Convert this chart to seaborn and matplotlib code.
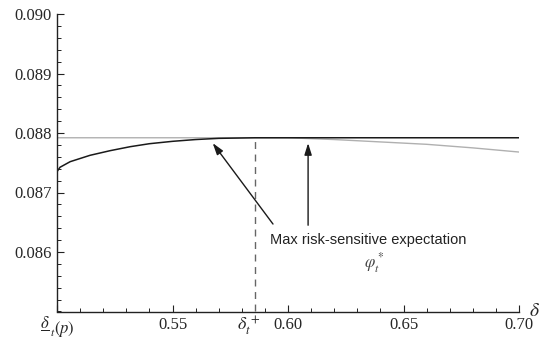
import numpy as np
import pandas as pd
import seaborn as sns
import matplotlib.pyplot as plt
from matplotlib.ticker import MultipleLocator

# values
delta_opt = 0.5857
black_x = [0.500, 0.5013, 0.5057, 0.5143, 0.523, 0.5317, 0.54, 0.55, 0.56, 0.57, 0.5857, 0.60, 0.65, 0.70]
black_y = [0.08735, 0.087424, 0.087518, 0.087625, 0.087703, 0.08777, 0.08782, 0.08786,
           0.08789, 0.08791, 0.08792, 0.08792, 0.08792, 0.08792]
gray_x = [0.50, 0.55, 0.5857, 0.60, 0.62, 0.64, 0.66, 0.68, 0.70]
gray_y = [0.08792, 0.08792, 0.08792, 0.08792, 0.08789, 0.08785, 0.08781, 0.08775, 0.08768]
xtick_vals = [0.50, 0.55, 0.60, 0.65, 0.70]
xtick_labels = ['', '0.55', '0.60', '0.65', '0.70']
first_label = r'$\genfrac{}{}{0.7}{0}{\delta}{\,}_t(p)$'
ytick_vals = [0.086, 0.087, 0.088, 0.089, 0.090]

sns.set_style("ticks")
plt.rcParams['font.family'] = 'serif'
plt.rcParams['font.serif'] = ['Liberation Serif', 'DejaVu Serif']
plt.rcParams['mathtext.fontset'] = 'stix'

df_black = pd.DataFrame({"x": black_x, "y": black_y})
df_gray = pd.DataFrame({"x": gray_x, "y": gray_y})

fig = plt.figure(figsize=(5.54, 3.38), dpi=100)
ax = fig.add_axes([57 / 554, 1 - 311.5 / 338, (519 - 57) / 554, (311.5 - 14) / 338])

sns.lineplot(data=df_gray, x="x", y="y", ax=ax, color="#b0b0b0", lw=1.0)
sns.lineplot(data=df_black, x="x", y="y", ax=ax, color="#1a1a1a", lw=1.1)
ax.plot([delta_opt, delta_opt], [0.085, black_y[10]], color="#666666", lw=1.0, ls=(0, (5, 4)))

ax.set_xlim(0.50, 0.70)
ax.set_ylim(0.085, 0.090)
sns.despine(ax=ax)
for s in ["left", "bottom"]:
    ax.spines[s].set_linewidth(1.0)
    ax.spines[s].set_color("#222222")

ax.set_xticks(xtick_vals)
ax.set_xticklabels(xtick_labels, family="Liberation Serif")
ax.set_yticks(ytick_vals)
ax.set_yticklabels([f"{v:.3f}" for v in ytick_vals], family="Liberation Serif")
ax.xaxis.set_minor_locator(MultipleLocator(0.01))
ax.yaxis.set_minor_locator(MultipleLocator(0.0002))
ax.tick_params(which="major", direction="in", length=5, width=0.8, labelsize=12, pad=4, color="#222222")
ax.tick_params(which="minor", direction="in", length=3, width=0.7, color="#222222")
ax.set_xlabel("")
ax.set_ylabel("")

ax.annotate(first_label, xy=(0.50, 0.085), xytext=(0, -16), textcoords="offset points",
            ha="center", va="baseline", fontsize=12, annotation_clip=False)
ax.text(delta_opt - 0.0025, 0.085 - 0.00006, r'$\delta_t^{\,+}$', ha="center", va="top", fontsize=13)
ax.text(0.7045, 0.0850, r'$\delta$', ha="left", va="center", fontsize=14)

arrow = dict(arrowstyle="-|>,head_length=0.7,head_width=0.22", color="#1a1a1a", lw=1.0,
             shrinkA=0, shrinkB=0)
ax.annotate("", xy=(0.5674, 0.08783), xytext=(0.5935, 0.08647), arrowprops=arrow)
ax.annotate("", xy=(0.6087, 0.08783), xytext=(0.6087, 0.08645), arrowprops=arrow)
ax.text(0.5922, 0.0862, "Max risk-sensitive expectation", ha="left", va="center",
        fontsize=10.5, family=["Liberation Sans", "DejaVu Sans"], color="#222222")
ax.text(0.6374, 0.08582, r'$\varphi_t^*$', ha="center", va="center", fontsize=12, color="#444444")

fig.savefig("out.png", dpi=100)
